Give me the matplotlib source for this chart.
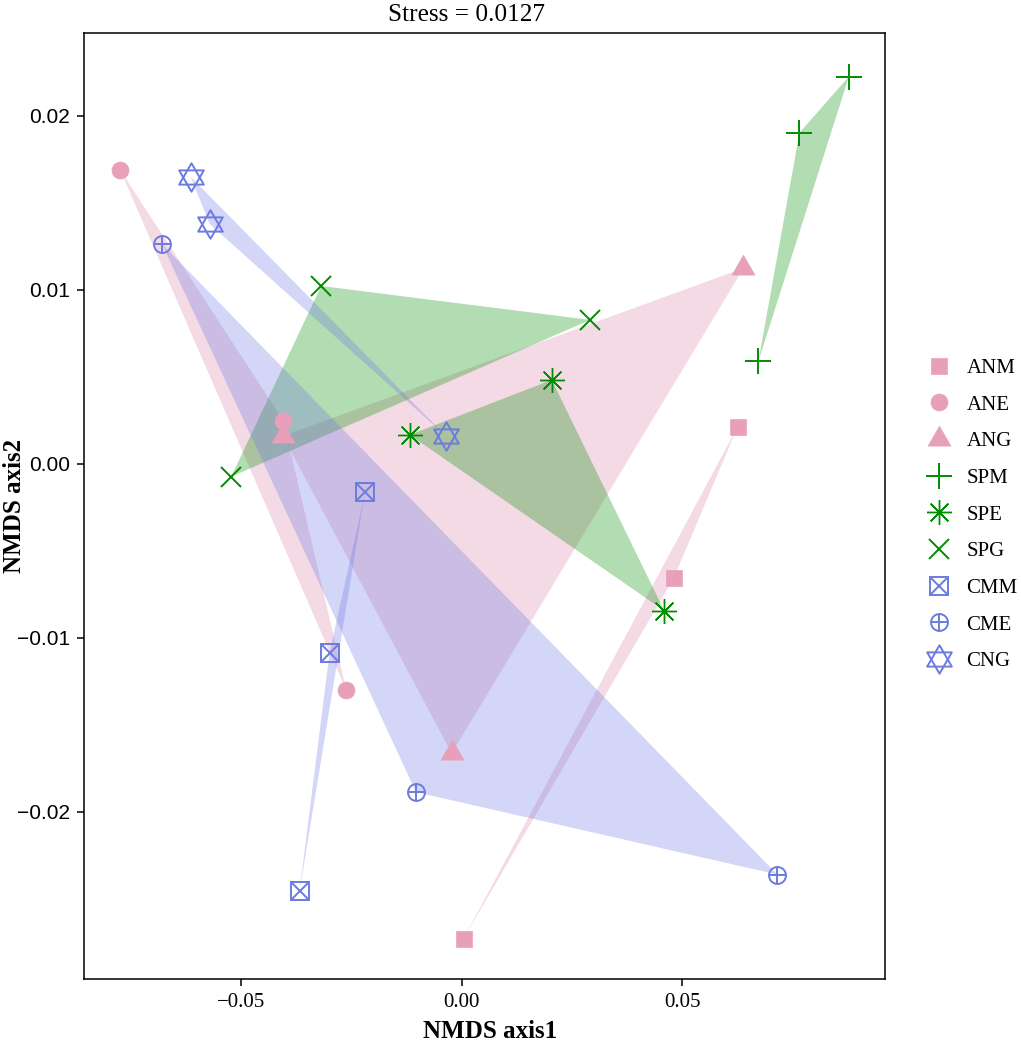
import numpy as np
import matplotlib.pyplot as plt
from matplotlib.path import Path
from matplotlib.patches import Polygon
from matplotlib.lines import Line2D

plt.rcParams['font.family'] = ['Liberation Serif', 'DejaVu Serif']

# NMDS scores, three samples per group
grupos = ['ANM', 'ANE', 'ANG', 'SPM', 'SPE', 'SPG', 'CMM', 'CME', 'CNG']
eje1 = {
    'ANM': [0.0626, 0.0481, 0.0004],
    'ANE': [-0.0775, -0.0405, -0.0262],
    'ANG': [0.0639, -0.0406, -0.0023],
    'SPM': [0.0878, 0.0766, 0.0673],
    'SPE': [-0.0118, 0.0204, 0.0459],
    'SPG': [-0.0319, 0.0291, -0.0523],
    'CMM': [-0.0219, -0.0300, -0.0368],
    'CME': [-0.0680, -0.0104, 0.0716],
    'CNG': [-0.0615, -0.0572, -0.0037],
}
eje2 = {
    'ANM': [0.00215, -0.00654, -0.02728],
    'ANE': [0.0169, 0.00249, -0.01301],
    'ANG': [0.01125, 0.0016, -0.01663],
    'SPM': [0.02226, 0.01904, 0.00592],
    'SPE': [0.00167, 0.00483, -0.00843],
    'SPG': [0.01023, 0.00828, -0.00073],
    'CMM': [-0.00159, -0.01085, -0.02453],
    'CME': [0.01264, -0.01886, -0.0236],
    'CNG': [0.0165, 0.0138, 0.00163],
}
stress = 0.0127

rosa, verde, azul = '#E8A0BA', '#008B00', '#6B7BDF'
relleno = {'A': ('#D97BA0', 0.28), 'S': ('#008B00', 0.30), 'C': ('#6E78E6', 0.30)}

# custom marker shapes (ggplot-like)
ang = np.deg2rad([90, 210, 330])
tri_arriba = Path(np.column_stack([np.cos(ang), np.sin(ang)]).tolist() + [[0, 1]], closed=True)
tri_abajo = Path(np.column_stack([np.cos(ang + np.pi), np.sin(ang + np.pi)]).tolist() + [[0, -1]], closed=True)

# each group: list of (marker, size, filled, color, edge width)
estilos = {
    'ANM': [('s', 12.0, True, rosa, 0.5)],
    'ANE': [('o', 12.2, True, rosa, 0.5)],
    'ANG': [((3, 0, 0), 19.0, True, rosa, 0.5)],
    'SPM': [('+', 18.5, False, verde, 1.4)],
    'SPE': [((8, 2, 0), 18.0, False, verde, 1.0)],
    'SPG': [('x', 14.0, False, verde, 1.4)],
    'CMM': [('s', 12.8, False, azul, 1.4), ('x', 12.8, False, azul, 1.4)],
    'CME': [('o', 12.2, False, azul, 1.4), ('+', 12.2, False, azul, 1.4)],
    'CNG': [(tri_arriba, 20.5, False, azul, 1.4), (tri_abajo, 20.5, False, azul, 1.4)],
}

fig = plt.figure(figsize=(10.21, 10.41), dpi=100)
ax = fig.add_axes([0.0823, 0.0596, 0.7845, 0.9087])

# hulls (three points each -> triangles)
for g in grupos:
    col, a = relleno[g[0]]
    pts = np.column_stack([eje1[g], eje2[g]])
    ax.add_patch(Polygon(pts, closed=True, facecolor=col, alpha=a, edgecolor='none', zorder=1))

handles = []
for g in grupos:
    partes = []
    for mk, ms, lleno, col, mew in estilos[g]:
        kw = dict(marker=mk, markersize=ms, linestyle='none', markeredgewidth=mew)
        if lleno:
            kw.update(markerfacecolor=col, markeredgecolor=col)
        else:
            kw.update(markerfacecolor='none', markeredgecolor=col)
        ax.plot(eje1[g], eje2[g], zorder=3, **kw)
        partes.append(Line2D([], [], **kw))
    handles.append(tuple(partes))

ax.set_xlim(-0.0857, 0.0960)
ax.set_ylim(-0.0296, 0.02477)
ax.set_xticks([-0.05, 0.0, 0.05])
ax.set_xticklabels(['\u22120.05', '0.00', '0.05'])
ax.set_yticks([-0.02, -0.01, 0.0, 0.01, 0.02])
ax.set_yticklabels(['\u22120.02', '\u22120.01', '0.00', '0.01', '0.02'],
                   family=['Liberation Sans', 'DejaVu Sans'])
ax.tick_params(axis='both', direction='out', length=5, width=1.1, labelsize=15,
               colors='black', pad=5)
for s in ax.spines.values():
    s.set_linewidth(1.1)

ax.set_xlabel('NMDS axis1', fontsize=18, fontweight='bold')
ax.set_ylabel('NMDS axis2', fontsize=18, fontweight='bold', va='center')
ax.xaxis.set_label_coords(0.507, -0.043, transform=ax.transAxes)
ax.xaxis.label.set_va('top')
ax.yaxis.set_label_coords(-0.087, 0.5)

fig.text(466.5 / 1021, 1 - 21 / 1041, f'Stress = {stress}', fontsize=18.2,
         ha='center', va='baseline')

fig.legend(handles, grupos, loc='center left', bbox_to_anchor=(0.8854, 0.5055),
           frameon=False, fontsize=15, handlelength=1.6, handletextpad=0.5,
           labelspacing=0.82, numpoints=1)

fig.savefig('out.png', dpi=100)
